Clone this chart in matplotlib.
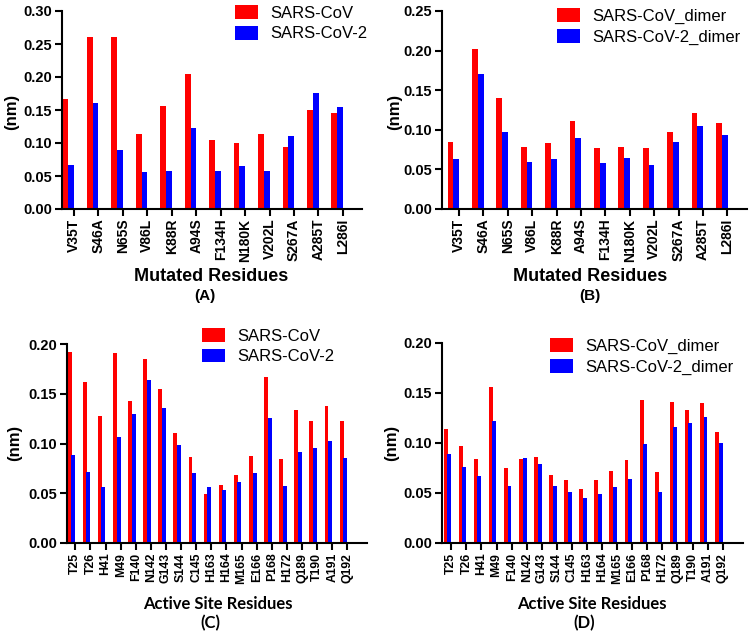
import matplotlib.pyplot as plt

plt.rcParams['font.family'] = ['Liberation Sans', 'DejaVu Sans']

W, H = 749, 633

mutated = ['V35T', 'S46A', 'N65S', 'V86L', 'K88R', 'A94S', 'F134H', 'N180K',
           'V202L', 'S267A', 'A285T', 'L286I']
a_cov = [0.167, 0.261, 0.261, 0.113, 0.156, 0.204, 0.105, 0.100, 0.113, 0.094, 0.150, 0.145]
a_cov2 = [0.066, 0.160, 0.089, 0.056, 0.057, 0.123, 0.057, 0.065, 0.057, 0.110, 0.176, 0.154]
b_cov = [0.084, 0.202, 0.140, 0.078, 0.083, 0.111, 0.077, 0.078, 0.077, 0.097, 0.121, 0.109]
b_cov2 = [0.063, 0.170, 0.097, 0.059, 0.063, 0.090, 0.058, 0.064, 0.056, 0.084, 0.105, 0.094]

active = ['T25', 'T26', 'H41', 'M49', 'F140', 'N142', 'G143', 'S144', 'C145', 'H163',
          'H164', 'M165', 'E166', 'P168', 'H172', 'Q189', 'T190', 'A191', 'Q192']
c_cov = [0.192, 0.162, 0.128, 0.191, 0.143, 0.185, 0.155, 0.111, 0.086, 0.049,
         0.058, 0.068, 0.087, 0.167, 0.084, 0.134, 0.123, 0.138, 0.123]
c_cov2 = [0.088, 0.071, 0.056, 0.107, 0.130, 0.164, 0.136, 0.098, 0.070, 0.056,
          0.053, 0.061, 0.070, 0.126, 0.057, 0.091, 0.095, 0.103, 0.085]
d_cov = [0.114, 0.097, 0.084, 0.156, 0.075, 0.084, 0.086, 0.068, 0.063, 0.054,
         0.063, 0.072, 0.083, 0.143, 0.071, 0.141, 0.133, 0.140, 0.111]
d_cov2 = [0.089, 0.076, 0.067, 0.122, 0.057, 0.085, 0.079, 0.057, 0.051, 0.045,
          0.049, 0.056, 0.064, 0.099, 0.051, 0.116, 0.120, 0.126, 0.100]

RED = '#ff0000'
BLUE = '#0000ff'


def frac(x, y):
    return x / W, 1 - y / H


def panel(fig, box, cats, red, blue, xlim, ymax, yticks, legend_xy, names,
          xfs, red_off, blue_off, bw):
    l, t, r, b = box
    ax = fig.add_axes([l / W, 1 - b / H, (r - l) / W, (b - t) / H])
    xs = list(range(len(cats)))
    ax.bar([x + red_off for x in xs], red, width=bw, color=RED, label=names[0])
    ax.bar([x + blue_off for x in xs], blue, width=bw, color=BLUE, label=names[1])
    ax.set_xlim(*xlim)
    ax.set_ylim(0, ymax)
    ax.set_yticks(yticks)
    ax.set_yticklabels(['%.2f' % v for v in yticks], fontsize=10.5, fontweight='bold')
    ax.set_xticks(xs)
    ax.set_xticklabels(cats, rotation=90, fontsize=xfs, fontweight='bold')
    for s in ['top', 'right']:
        ax.spines[s].set_visible(False)
    for s in ['left', 'bottom']:
        ax.spines[s].set_linewidth(1.5)
    ax.tick_params(width=1.5, length=5, pad=2)
    ax.legend(loc='upper left', bbox_to_anchor=frac(*legend_xy),
              bbox_transform=fig.transFigure, frameon=False, fontsize=12,
              handlelength=1.4, handleheight=0.9, handletextpad=0.7,
              labelspacing=0.3, borderpad=0, borderaxespad=0)
    return ax


fig = plt.figure(figsize=(W / 100, H / 100), dpi=100)

panel(fig, (62, 11, 362, 209), mutated, a_cov, a_cov2, (-0.49, 11.78), 0.30,
      [0, 0.05, 0.10, 0.15, 0.20, 0.25, 0.30], (235, 5), ['SARS-CoV', 'SARS-CoV-2'],
      10, -0.35, -0.115, 0.235)
panel(fig, (442, 11, 747, 209), mutated, b_cov, b_cov2, (-0.7, 11.8), 0.25,
      [0, 0.05, 0.10, 0.15, 0.20, 0.25], (557, 8), ['SARS-CoV_dimer', 'SARS-CoV-2_dimer'],
      10, -0.35, -0.115, 0.235)
panel(fig, (67, 344, 367, 543), active, c_cov, c_cov2, (-0.55, 19.3), 0.20,
      [0, 0.05, 0.10, 0.15, 0.20], (202, 328), ['SARS-CoV', 'SARS-CoV-2'],
      8.8, -0.38, -0.14, 0.26)
panel(fig, (442, 343, 743, 543), active, d_cov, d_cov2, (-0.62, 19.35), 0.20,
      [0, 0.05, 0.10, 0.15, 0.20], (550, 338), ['SARS-CoV_dimer', 'SARS-CoV-2_dimer'],
      8.8, -0.38, -0.14, 0.26)

# axis titles and panel letters
for x, y in [(12, 112), (395, 112), (15, 443), (392, 443)]:
    fig.text(*frac(x, y), '(nm)', rotation=90, ha='center', va='center',
             fontsize=12, fontweight='bold')
for x in (211, 590):
    fig.text(*frac(x, 276), 'Mutated Residues', ha='center', va='center',
             fontsize=13, fontweight='bold')
fig.text(*frac(205, 296), '(A)', ha='center', va='center', fontsize=11, fontweight='bold')
fig.text(*frac(590, 296), '(B)', ha='center', va='center', fontsize=11, fontweight='bold')
for x, lab in [(218, '(C)'), (592, '(D)')]:
    fig.text(*frac(x, 604), 'Active Site Residues', ha='center', va='center',
             fontsize=12, fontweight='bold', family=['Lato', 'DejaVu Sans'])
    fig.text(*frac(x - 8, 623), lab, ha='center', va='center',
             fontsize=12, fontweight='bold', family=['Lato', 'DejaVu Sans'])

fig.savefig('out.png', dpi=100)
